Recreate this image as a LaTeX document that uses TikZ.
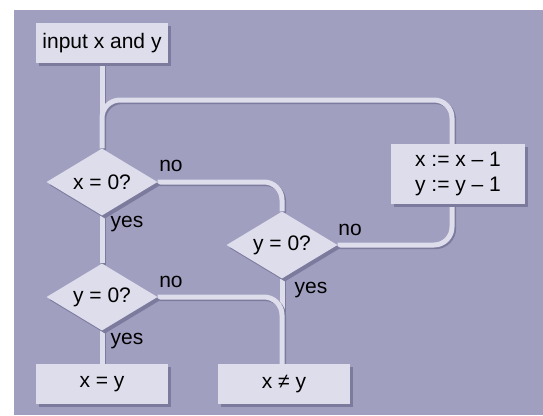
\documentclass[tikz,border=0pt]{standalone}
\usepackage{fontspec}
\setmainfont{Liberation Sans}
\usetikzlibrary{shapes.geometric,shadows,calc}
\definecolor{bgcol}{RGB}{160,159,192}
\definecolor{boxcol}{RGB}{222,221,235}
\definecolor{shcol}{RGB}{124,123,158}
\pgfdeclarelayer{bgl}
\pgfdeclarelayer{linel}
\pgfsetlayers{bgl,linel,main}
\begin{document}
\begin{tikzpicture}[x=1pt,y=-1pt,
  every node/.style={font=\fontsize{21}{25}\selectfont, text=black},
  box/.style={fill=boxcol, minimum width=132pt, minimum height=40pt, inner sep=0pt,
    drop shadow={shadow xshift=3pt,shadow yshift=-3pt,fill=shcol,opacity=1}},
  dia/.style={diamond, aspect=1.66, fill=boxcol, minimum width=111pt, minimum height=67pt, inner sep=0pt,
    drop shadow={shadow xshift=3pt,shadow yshift=-3pt,fill=shcol,opacity=1}},
  conn/.style={draw=boxcol, line width=5pt, rounded corners=18pt,
    preaction={draw=shcol, line width=5pt, transform canvas={xshift=1.6pt,yshift=-1.6pt}}}]
\useasboundingbox (0,0) rectangle (543,415);
\begin{pgfonlayer}{bgl}
  \fill[bgcol] (14,10) rectangle (543,415);
\end{pgfonlayer}

\node[box] (in) at (102,43) {input x and y};
\node[dia] (d1) at (102,182) {x = 0?};
\node[dia] (d2) at (282,245) {y = 0?};
\node[dia] (d3) at (102,297) {y = 0?};
\node[box, minimum width=134pt, minimum height=60pt, align=center] (p) at (458,174) {x := x – 1\\ y := y – 1};
\node[box] (eq) at (102,384) {x = y};
\node[box] (ne) at (284,384) {x ≠ y};

\node (no1) at (171,166) {no};
\node (yes1) at (127,224) {yes};
\node (no2) at (350,230) {no};
\node (yes2) at (311,290) {yes};
\node (no3) at (171,282) {no};
\node (yes3) at (127,341) {yes};

\begin{pgfonlayer}{linel}
  \draw[conn] (in.south) -- (d1.north);
  \draw[conn] ([xshift=-6pt]p.north) |- (d1.north |- 0,100) -- (d1.north);
  \draw[conn] (d1.east) -| (d2.north);
  \draw[conn] (d2.east) -| ([xshift=-6pt]p.south);
  \draw[conn] (d1.south) -- (d3.north);
  \draw[conn] (d2.south) -- (d2.south |- ne.north);
  \draw[conn] (d3.east) -| (d2.south |- ne.north);
  \draw[conn] (d3.south) -- (eq.north);
\end{pgfonlayer}
\end{tikzpicture}
\end{document}
